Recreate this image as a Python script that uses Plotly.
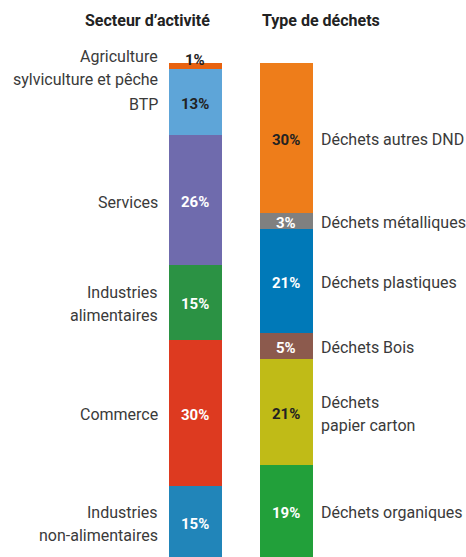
import plotly.graph_objects as go

# Secteur d'activité (part des déchets, %)
secteurs = ["Agriculture<br>sylviculture et pêche", "BTP", "Services",
            "Industries<br>alimentaires", "Commerce", "Industries<br>non-alimentaires"]
secteurs_val = [1.3, 13.3, 26.4, 15.0, 29.7, 14.6]
secteurs_col = ["#e8620f", "#5ea5d8", "#6f6bad", "#2b9244", "#dd3a20", "#2185b9"]
secteurs_txt = ["#222222", "#222222", "#ffffff", "#ffffff", "#ffffff", "#ffffff"]

# Type de déchets (%)
dechets = ["Déchets autres DND", "Déchets métalliques", "Déchets plastiques",
           "Déchets Bois", "Déchets<br>papier carton", "Déchets organiques"]
dechets_val = [30.4, 3.2, 21.0, 5.3, 21.4, 18.7]
dechets_col = ["#ee7d1a", "#808080", "#0079b8", "#8c5a4d", "#c0bb17", "#22a03a"]
dechets_txt = ["#222222", "#ffffff", "#ffffff", "#ffffff", "#222222", "#ffffff"]

titres = ["Secteur d’activité", "Type de déchets"]

FONT = "Roboto"
LINE_H = 23
fig = go.Figure()
annots = []

def add_column(xpos, names, vals, cols, txtcols, side):
    base = 0
    for name, v, c, tc in zip(names, vals, cols, txtcols):
        fig.add_trace(go.Bar(x=[xpos], y=[v], base=[base], width=0.582,
                             marker=dict(color=c, line=dict(width=0)),
                             showlegend=False, hoverinfo="skip"))
        mid = base + v / 2
        annots.append(dict(x=xpos, y=mid, xref="x", yref="y", text=f"{round(v)}%",
                           showarrow=False, yshift=6 if v < 2 else -2,
                           font=dict(family=FONT, size=15, color=tc, weight="bold")))
        lines = name.split("<br>")
        n = len(lines)
        for i, ln in enumerate(lines):
            ys = ((n - 1) / 2 - i) * LINE_H - 2
            if side == "left":
                annots.append(dict(x=xpos - 0.291, y=mid, xref="x", yref="y", text=ln,
                                   xanchor="right", xshift=-9, yshift=ys, showarrow=False,
                                   font=dict(family=FONT, size=16, color="#3a3a3a")))
            else:
                annots.append(dict(x=xpos + 0.291, y=mid, xref="x", yref="y", text=ln,
                                   xanchor="left", xshift=6, yshift=ys, showarrow=False,
                                   font=dict(family=FONT, size=16, color="#3a3a3a")))
        base += v

add_column(0, secteurs, secteurs_val, secteurs_col, secteurs_txt, "left")
add_column(1, dechets, dechets_val, dechets_col, dechets_txt, "right")

annots.append(dict(x=-0.53, y=-8.6, xref="x", yref="y", text=titres[0], showarrow=False,
                   xanchor="center", font=dict(family=FONT, size=16, color="#222222", weight="bold")))
annots.append(dict(x=1 - 0.291, y=-8.6, xref="x", yref="y", text=titres[1], showarrow=False,
                   xanchor="left", font=dict(family=FONT, size=16, color="#222222", weight="bold")))

fig.update_layout(
    width=466, height=557,
    margin=dict(l=0, r=0, t=0, b=0),
    paper_bgcolor="white", plot_bgcolor="white",
    barmode="overlay", bargap=0,
    xaxis=dict(range=[-2.148, 2.973], visible=False, fixedrange=True),
    yaxis=dict(range=[100, -12.7], visible=False, fixedrange=True),
    annotations=annots,
)

fig.write_html("out.html", config={"displayModeBar": False},
               post_script="document.body.style.margin='0';document.body.style.overflow='hidden';")
